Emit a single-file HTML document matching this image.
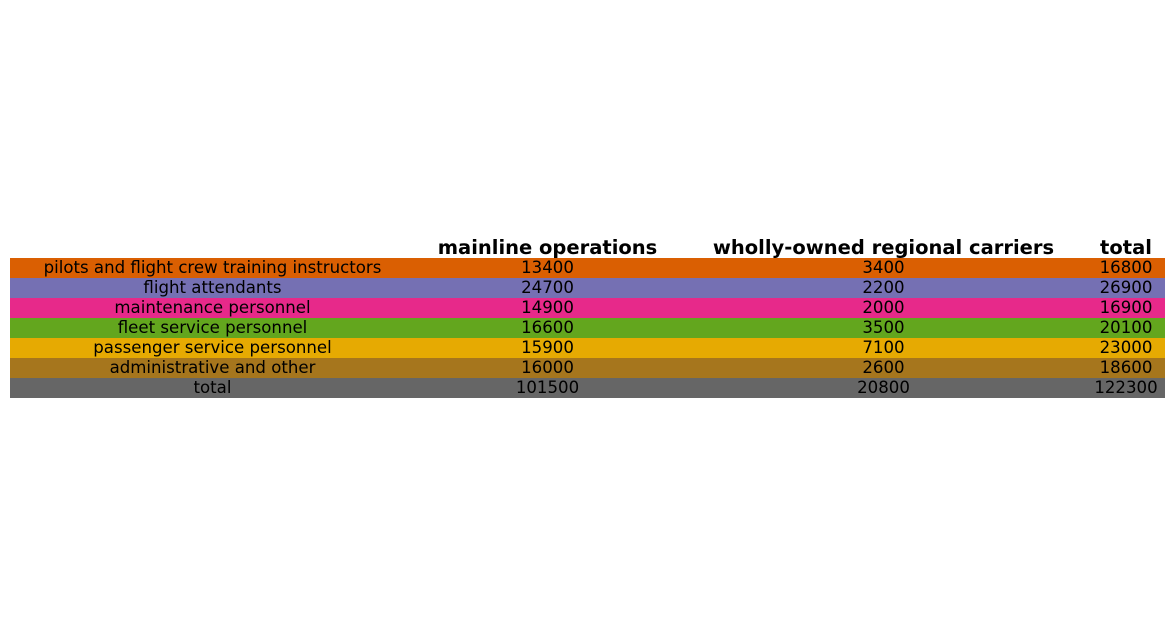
<!DOCTYPE html>
<html><head><meta charset="utf-8"><style>
body{margin:0;width:1174px;height:636px;background:#fff;position:relative;overflow:hidden;font-family:"DejaVu Sans","Liberation Sans",sans-serif;}
.c{position:absolute;height:20px;line-height:20px;font-size:16.6px;color:#000;text-align:center;white-space:nowrap;}
.h{position:absolute;height:20px;line-height:20px;font-size:19.5px;font-weight:bold;text-align:center;white-space:nowrap;top:238px;}
.r{position:absolute;left:10px;width:1155px;height:20px;}
</style></head><body>
<div class="h" style="left:415px;width:265px">mainline operations</div>
<div class="h" style="left:680px;width:407px">wholly-owned regional carriers</div>
<div class="h" style="left:1087px;width:78px">total</div>
<div id="t"></div>
<script>
const labels=["pilots and flight crew training instructors","flight attendants","maintenance personnel","fleet service personnel","passenger service personnel","administrative and other","total"];
const mainline=[13400,24700,14900,16600,15900,16000,101500];
const regional=[3400,2200,2000,3500,7100,2600,20800];
const totals=[16800,26900,16900,20100,23000,18600,122300];
const colors=["#da5f02","#7570b3","#e7298a","#63a61e","#e6aa02","#a6761d","#666666"];
const t=document.getElementById('t');
const cols=[[10,405],[415,265],[680,407],[1087,78]];
labels.forEach((l,i)=>{
  const y=258+i*20;
  const r=document.createElement('div');
  r.className='r';r.style.top=y+'px';r.style.background=colors[i];
  
  
  t.appendChild(r);
  [l,mainline[i],regional[i],totals[i]].forEach((v,j)=>{
    const c=document.createElement('div');
    c.className='c';c.style.top=y+'px';c.style.left=cols[j][0]+'px';c.style.width=cols[j][1]+'px';
    c.textContent=v;
    
    
    t.appendChild(c);
  });
});
</script>
</body></html>
